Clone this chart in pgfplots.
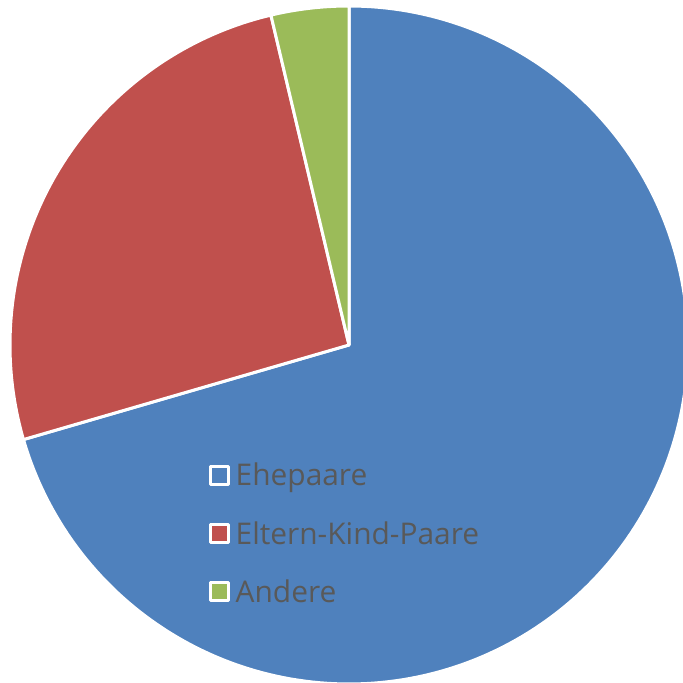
\documentclass[border=0pt]{standalone}
\usepackage{pgfplots}
\pgfplotsset{compat=1.18}
\usepackage{fontspec}
\setmainfont{Open Sans}
\definecolor{cblue}{HTML}{4F81BD}
\definecolor{cred}{HTML}{C0504D}
\definecolor{cgreen}{HTML}{9BBB59}
\definecolor{ctext}{HTML}{595959}
\begin{document}
\begin{tikzpicture}
% values in percent
\def\va{70.5}\def\vb{25.8}\def\vc{3.7}
\pgfmathsetmacro{\aA}{90}
\pgfmathsetmacro{\aB}{90-3.6*\va}
\pgfmathsetmacro{\aC}{\aB-3.6*\vb}
\pgfmathsetmacro{\aD}{\aC-3.6*\vc}
\begin{axis}[
  width=683bp, height=683bp, scale only axis,
  xmin=0, xmax=683, ymin=-683, ymax=0,
  hide axis,
  legend style={at={(axis cs:208.5,-463)}, anchor=north west, draw=none, fill=none,
    font=\fontsize{30}{35}\selectfont, text=ctext, row sep=34bp,
    cells={anchor=west}, inner sep=0pt, nodes={inner sep=0pt},
    /tikz/every odd column/.style={column sep=6bp}},
  legend cell align=left,
]
\addplot[fill=cblue, draw=white, line width=3bp, line join=round, domain=\aA:\aB, samples=200,
  legend image code/.code={\filldraw[draw=white,fill=cblue,line width=3bp] (0bp,-9bp) rectangle (18bp,9bp);}]
  ({349+339*cos(x)},{-345+339*sin(x)}) -- (axis cs:349,-345) -- cycle;
\addlegendentry{Ehepaare}
\addplot[fill=cred, draw=white, line width=3bp, line join=round, domain=\aB:\aC, samples=100,
  legend image code/.code={\filldraw[draw=white,fill=cred,line width=3bp] (0bp,-9bp) rectangle (18bp,9bp);}]
  ({349+339*cos(x)},{-345+339*sin(x)}) -- (axis cs:349,-345) -- cycle;
\addlegendentry{Eltern-Kind-Paare}
\addplot[fill=cgreen, draw=white, line width=3bp, line join=round, domain=\aC:\aD, samples=30,
  legend image code/.code={\filldraw[draw=white,fill=cgreen,line width=3bp] (0bp,-9bp) rectangle (18bp,9bp);}]
  ({349+339*cos(x)},{-345+339*sin(x)}) -- (axis cs:349,-345) -- cycle;
\addlegendentry{Andere}
\end{axis}
\pgfresetboundingbox
\useasboundingbox (current axis.south west) rectangle (current axis.north east);
\end{tikzpicture}
\end{document}
